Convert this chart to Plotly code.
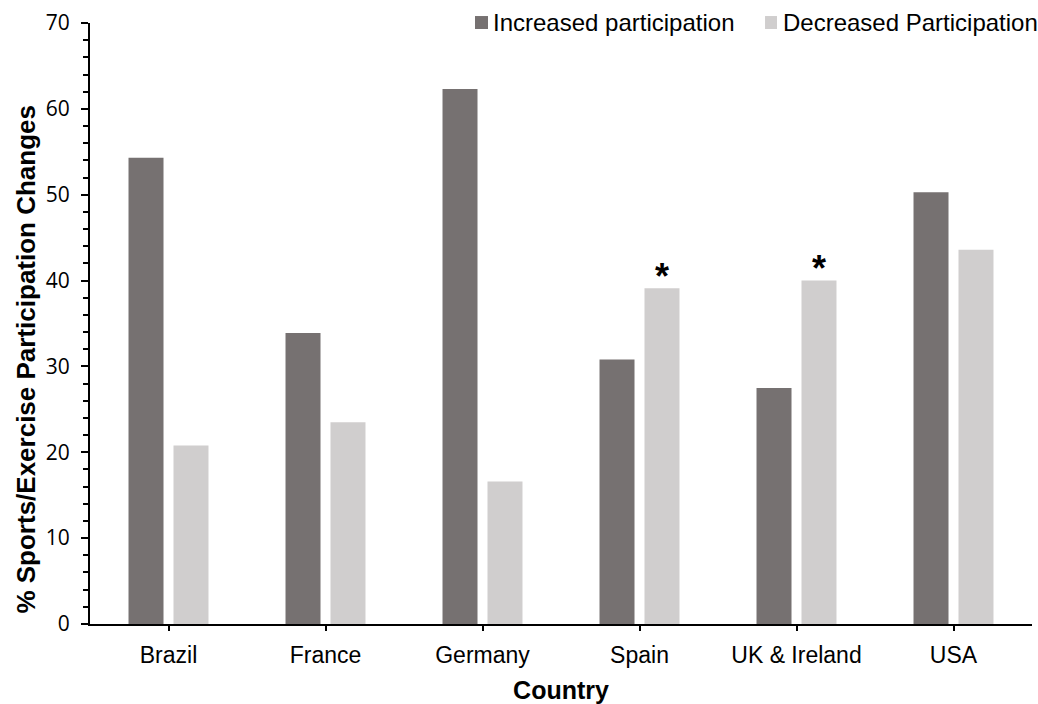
import plotly.graph_objects as go

countries = ["Brazil", "France", "Germany", "Spain", "UK & Ireland", "USA"]
increased = [54.3, 33.9, 62.3, 30.8, 27.5, 50.3]
decreased = [20.8, 23.5, 16.6, 39.1, 40.0, 43.6]
series_names = ["Increased participation", "Decreased Participation"]
series_colors = ["#767171", "#D0CECE"]
starred = ["Spain", "UK & Ireland"]

fig = go.Figure()
fig.add_trace(go.Bar(x=countries, y=increased, name=series_names[0],
                     marker=dict(color=series_colors[0], line=dict(width=0))))
fig.add_trace(go.Bar(x=countries, y=decreased, name=series_names[1],
                     marker=dict(color=series_colors[1], line=dict(width=0))))

for c in starred:
    v = decreased[countries.index(c)]
    fig.add_annotation(x=c, y=v, xref="x", yref="y", text="<b>*</b>",
                       showarrow=False, xshift=22.5, yanchor="middle", yshift=12,
                       font=dict(size=36, color="black", family="Liberation Sans"))

# manual legend (square swatches + labels)
legend_sq = [(0.4087, 0.4225), (0.7166, 0.7293)]
legend_tx = [0.4262, 0.7335]
for i, name in enumerate(series_names):
    fig.add_shape(type="rect", xref="paper", yref="paper",
                  x0=legend_sq[i][0], x1=legend_sq[i][1], y0=0.990, y1=1.0116,
                  fillcolor=series_colors[i], line=dict(width=0))
    fig.add_annotation(x=legend_tx[i], y=1.001, xref="paper", yref="paper",
                       text=name, showarrow=False, xanchor="left", yanchor="middle",
                       font=dict(size=24, color="black", family="Liberation Sans"))

# y-axis title as rotated annotation
fig.add_annotation(x=-0.0679, y=0.44, xref="paper", yref="paper",
                   text="<b>% Sports/Exercise Participation Changes</b>",
                   textangle=-90, showarrow=False, xanchor="center", yanchor="middle",
                   font=dict(size=26, color="black", family="Liberation Sans"))

fig.update_layout(
    width=1038, height=704,
    margin=dict(l=90, r=6, t=23, b=79.5),
    paper_bgcolor="white", plot_bgcolor="white",
    barmode="group", bargap=0.427, bargroupgap=0.222,
    showlegend=False,
    font=dict(family="Open Sans", color="black"),
    xaxis=dict(showline=True, linecolor="black", linewidth=2,
               ticks="outside", ticklen=5, tickcolor="black", tickwidth=2,
               tickfont=dict(size=23, family="Liberation Sans"),
               ticklabelstandoff=4,
               title=dict(text="<b>Country</b>", font=dict(size=25, family="Liberation Sans"),
                          standoff=15),
               showgrid=False, automargin=False),
    yaxis=dict(range=[0, 70], dtick=10, showline=True, linecolor="black", linewidth=2,
               ticks="outside", ticklen=7, tickcolor="black", tickwidth=2,
               tickfont=dict(size=21, family="Open Sans"),
               ticklabelstandoff=7,
               minor=dict(dtick=2, ticks="outside", ticklen=5, tickcolor="black", tickwidth=1.5),
               showgrid=False, zeroline=False, automargin=False),
)

fig.write_html("out.html", config={"displayModeBar": False},
               post_script="document.body.style.margin='0';")
